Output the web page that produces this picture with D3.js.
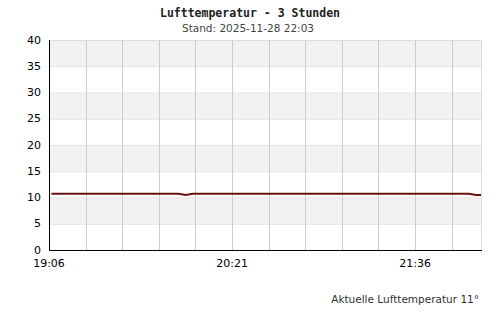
<!DOCTYPE html>
<html>
<head>
<meta charset="utf-8">
<script src="https://cdn.jsdelivr.net/npm/d3@7"></script>
<style>
  body { margin: 0; background: #fff; }
  svg text { font-family: "DejaVu Sans", sans-serif; }
</style>
</head>
<body>
<div id="chart"></div>
<script>
// readings (time, °C)
const times = ["19:07", "19:20", "19:35", "19:50", "19:59", "20:02", "20:05", "20:20", "20:35",
  "20:50", "21:05", "21:20", "21:35", "21:50", "21:58", "22:01", "22:03"];
const temps = [10.7, 10.7, 10.7, 10.7, 10.7, 10.5, 10.7, 10.7, 10.7,
  10.7, 10.7, 10.7, 10.7, 10.7, 10.7, 10.5, 10.5];
const yTicks = [0, 5, 10, 15, 20, 25, 30, 35, 40];
const xLabels = ["19:06", "20:21", "21:36"];
const startTime = "19:06", endTime = "22:03";

const width = 500, height = 320;
const margin = {left: 49, right: 19, top: 40, bottom: 70};

const parse = d3.timeParse("%H:%M");
const data = times.map((t, i) => ({t: parse(t), v: temps[i]}));

const x = d3.scaleTime()
    .domain([parse(startTime), parse(endTime)])
    .range([margin.left, width - margin.right]);
const y = d3.scaleLinear()
    .domain([0, 40])
    .range([height - margin.bottom, margin.top]);

const svg = d3.select("#chart").append("svg")
    .attr("width", width)
    .attr("height", height);

// alternating bands
svg.append("g").selectAll("rect")
    .data(yTicks.slice(0, -1))
    .enter().append("rect")
    .attr("x", margin.left)
    .attr("width", x.range()[1] - margin.left)
    .attr("y", d => y(d + 5))
    .attr("height", d => y(d) - y(d + 5))
    .attr("fill", d => (d / 5) % 2 === 1 ? "#f2f2f2" : "#fff");

// horizontal grid
svg.append("g").selectAll("line")
    .data(yTicks.slice(1))
    .enter().append("line")
    .attr("x1", margin.left).attr("x2", x.range()[1])
    .attr("y1", d => y(d) + 0.5).attr("y2", d => y(d) + 0.5)
    .attr("stroke", "#e2e2e2");

// vertical grid every 15 min
const gridTimes = d3.range(1, 12).map(i => d3.timeMinute.offset(parse(startTime), i * 15));
svg.append("g").selectAll("line")
    .data(gridTimes)
    .enter().append("line")
    .attr("x1", d => Math.round(x(d)) + 0.5).attr("x2", d => Math.round(x(d)) + 0.5)
    .attr("y1", y(40)).attr("y2", y(0))
    .attr("stroke", "#cccccc");
// right border
svg.append("line")
    .attr("x1", x.range()[1] + 0.5).attr("x2", x.range()[1] + 0.5)
    .attr("y1", y(40)).attr("y2", y(0))
    .attr("stroke", "#dddddd");
svg.append("line")
    .attr("x1", margin.left).attr("x2", x.range()[1])
    .attr("y1", y(40) + 0.5).attr("y2", y(40) + 0.5)
    .attr("stroke", "#dddddd");

// line
svg.append("path")
    .datum(data)
    .attr("fill", "none")
    .attr("stroke", "#6e1010")
    .attr("stroke-width", 2)
    .attr("d", d3.line().x(d => x(d.t)).y(d => y(d.v)));

// axes
svg.append("line")
    .attr("x1", margin.left + 0.5).attr("x2", margin.left + 0.5)
    .attr("y1", y(40)).attr("y2", y(0) + 1)
    .attr("stroke", "#000");
svg.append("line")
    .attr("x1", margin.left).attr("x2", x.range()[1] + 1)
    .attr("y1", y(0) + 0.5).attr("y2", y(0) + 0.5)
    .attr("stroke", "#000");

svg.append("g").selectAll("text")
    .data(yTicks)
    .enter().append("text")
    .attr("x", margin.left - 8)
    .attr("y", d => y(d) + 3.5)
    .attr("text-anchor", "end")
    .attr("font-size", 11)
    .attr("fill", "#000")
    .text(d => d);

svg.append("g").selectAll("text")
    .data(xLabels)
    .enter().append("text")
    .attr("x", d => x(parse(d)))
    .attr("y", y(0) + 17)
    .attr("text-anchor", "middle")
    .attr("font-size", 11)
    .attr("fill", "#000")
    .text(d => d);

// titles
svg.append("text")
    .attr("x", 250).attr("y", 17)
    .attr("text-anchor", "middle")
    .style("font-family", "'DejaVu Sans Mono', monospace")
    .attr("font-weight", "bold")
    .attr("font-size", 11.5)
    .attr("fill", "#222")
    .text("Lufttemperatur - 3 Stunden");
svg.append("text")
    .attr("x", 248).attr("y", 32)
    .attr("text-anchor", "middle")
    .attr("font-size", 10.5)
    .attr("fill", "#444")
    .text("Stand: 2025-11-28 22:03");
svg.append("text")
    .attr("x", 479).attr("y", 303)
    .attr("text-anchor", "end")
    .attr("font-size", 10.5)
    .attr("fill", "#333")
    .text("Aktuelle Lufttemperatur 11°");
</script>
</body>
</html>
